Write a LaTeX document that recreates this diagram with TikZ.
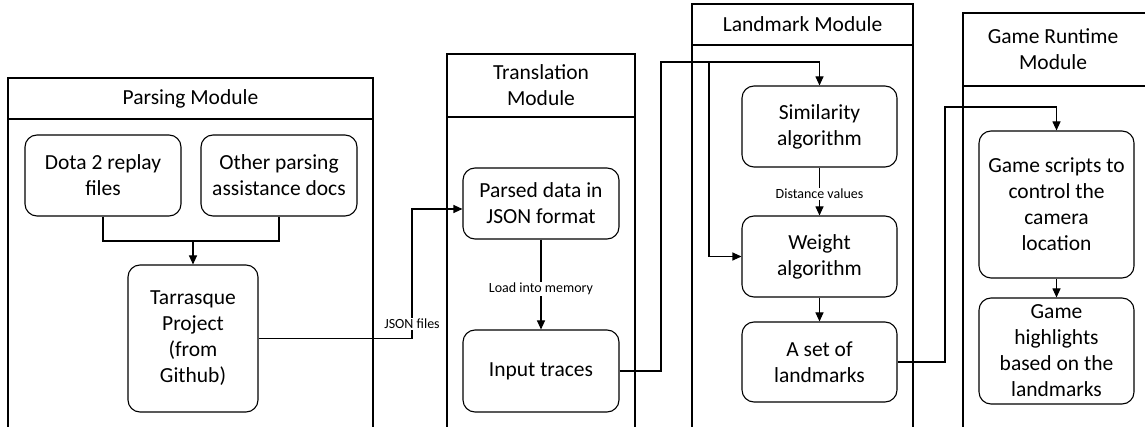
\documentclass[tikz,border=0pt]{standalone}
\usepackage{fontspec}
\setmainfont{Carlito}
\usetikzlibrary{arrows.meta}
\newcommand{\bigf}{\fontsize{21.5}{26}\selectfont}
\newcommand{\smallf}{\fontsize{14}{17}\selectfont}
\tikzset{
  every path/.style={line width=1.1pt},
  box/.style={draw, rounded corners=12pt, align=center, inner sep=0pt, font=\bigf},
  mtitle/.style={align=center, inner sep=0pt, font=\bigf},
  lbl/.style={fill=white, inner sep=1pt, font=\smallf},
  arr/.style={-{Triangle[length=9pt,width=8pt]}},
}
\begin{document}
\begin{tikzpicture}[x=1pt,y=-1pt]
\useasboundingbox (0,0) rectangle (1145,427);
% modules
\draw (8,430) -- (8,78) -- (373,78) -- (373,430);
\draw (8,119) -- (373,119);
\node[mtitle] (tpar) at (190.5,98.5) {Parsing Module};
\draw (447,430) -- (447,54) -- (635,54) -- (635,430);
\draw (447,117) -- (635,117);
\node[mtitle] (ttra) at (541,85.5) {Translation\\Module};
\draw (692,430) -- (692,4) -- (913,4) -- (913,430);
\draw (692,45) -- (913,45);
\node[mtitle] (tlan) at (802.5,24.5) {Landmark Module};
\draw (963,430) -- (963,13) -- (1150,13);
\draw (963,86) -- (1150,86);
\node[mtitle] (tgam) at (1053,49.5) {Game Runtime\\Module};
% boxes
\node[box, minimum width=156pt, minimum height=81pt] (dota) at (103,175.5) {Dota 2 replay\\files};
\node[box, minimum width=156pt, minimum height=81pt] (other) at (279,175.5) {Other parsing\\assistance docs};
\node[box, minimum width=130pt, minimum height=147pt] (tarr) at (193,338.5) {Tarrasque\\Project\\(from\\Github)};
\node[box, minimum width=156pt, minimum height=71pt] (parsed) at (541,203.5) {Parsed data in\\JSON format};
\node[box, minimum width=156pt, minimum height=82pt] (input) at (541,371) {Input traces};
\node[box, minimum width=155pt, minimum height=81pt] (sim) at (819.5,126.5) {Similarity\\algorithm};
\node[box, minimum width=155pt, minimum height=81pt] (weight) at (819.5,256.5) {Weight\\algorithm};
\node[box, minimum width=155pt, minimum height=80pt] (aset) at (819.5,362) {A set of\\landmarks};
\node[box, minimum width=155pt, minimum height=147pt] (scripts) at (1056.5,204.5) {Game scripts to\\control the\\camera\\location};
\node[box, minimum width=155pt, minimum height=106pt] (high) at (1056.5,351) {Game\\highlights\\based on the\\landmarks};
% connectors
\coordinate (m1) at (193,241);
\draw (dota.south) |- (m1) -| (other.south);
\draw[arr] (m1) -- (tarr.north);
\coordinate (j1) at (412,209);
\draw[arr] (tarr.east) -| (j1) -- (j1 -| parsed.west);
\node[lbl] (ljson) at (412,324) {JSON files};
\draw[arr] (parsed.south) -- (input.north) node[lbl, pos=0.55] (lload) {Load into memory};
\coordinate (j2) at (661,62);
\coordinate (j3) at (709,62);
\draw[arr] (input.east) -| (j2) -| (sim.north);
\draw[arr] (j3) |- (weight.west);
\draw[arr] (sim.south) -- (weight.north) node[lbl, pos=0.55] (ldist) {Distance values};
\draw[arr] (weight.south) -- (aset.north);
\coordinate (j4) at (945,107);
\draw[arr] (aset.east) -| (j4) -| (scripts.north);
\draw[arr] (scripts.south) -- (high.north);
\end{tikzpicture}
\end{document}
